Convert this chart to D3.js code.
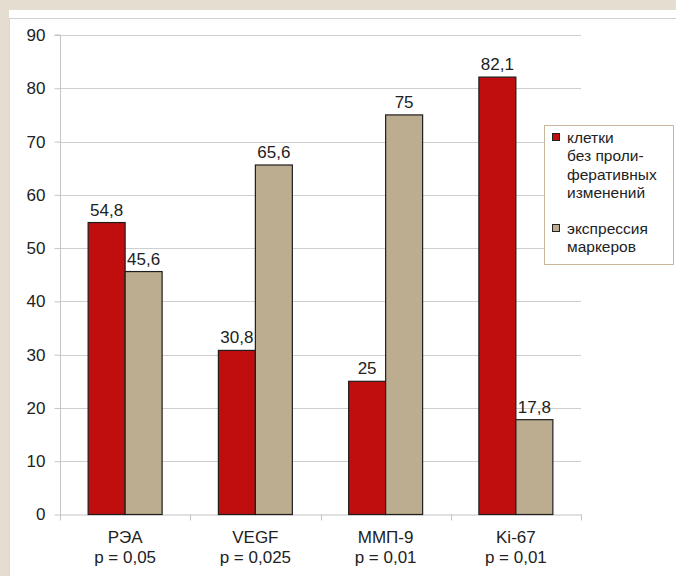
<!DOCTYPE html>
<html>
<head>
<meta charset="utf-8">
<script src="https://cdn.jsdelivr.net/npm/d3@7"></script>
<style>
  html, body { margin: 0; padding: 0; background: #e6ddd1; }
  svg { display: block; }
  text { font-family: "Liberation Sans", Arial, sans-serif; fill: #222; }
</style>
</head>
<body>
<script>
// Marker study: share of cells per marker
const categories = ["РЭА", "VEGF", "ММП-9", "Ki-67"];
const pValues = ["p = 0,05", "p = 0,025", "p = 0,01", "p = 0,01"];
const normalCells = [54.8, 30.8, 25, 82.1];
const markerExpression = [45.6, 65.6, 75, 17.8];
const yTicks = [0, 10, 20, 30, 40, 50, 60, 70, 80, 90];
const seriesNames = [["клетки", "без проли-", "феративных", "изменений"], ["экспрессия", "маркеров"]];
const seriesColors = ["#c00d0e", "#bcad90"];

const W = 676, H = 576;
const svg = d3.select("body").append("svg").attr("width", W).attr("height", H);

// white panel with thin frame
svg.append("rect").attr("x", 9).attr("y", 10).attr("width", W - 9).attr("height", H - 10).attr("fill", "#fff");
svg.append("line").attr("x1", 9).attr("x2", W).attr("y1", 18.5).attr("y2", 18.5).attr("stroke", "#d0d0d0");
svg.append("line").attr("x1", 9.5).attr("x2", 9.5).attr("y1", 18.5).attr("y2", H).attr("stroke", "#d8d8d8");

const x0 = 60, x1 = 581, yTop = 35, yBottom = 514.5;
const x = d3.scaleBand().domain(categories).range([x0, x1]).paddingInner(0).paddingOuter(0);
const y = d3.scaleLinear().domain([0, 90]).range([yBottom, yTop]);
const barW = x.bandwidth() * 0.284;

// gridlines
svg.append("g").selectAll("line").data(yTicks.filter(d => d > 0)).join("line")
  .attr("x1", x0).attr("x2", x1)
  .attr("y1", d => Math.round(y(d)) + 0.5).attr("y2", d => Math.round(y(d)) + 0.5)
  .attr("stroke", "#cfcfcf");

// y axis
const yAxis = svg.append("g").attr("transform", `translate(${x0 + 0.5},0)`)
  .call(d3.axisLeft(y).tickValues(yTicks).tickSize(6).tickPadding(9).tickFormat(d3.format("d")));
yAxis.select(".domain").attr("stroke", "#c4c4c4").attr("d", `M-6,${yTop}H0V${yBottom}`);
yAxis.selectAll(".tick line").attr("stroke", "#c4c4c4");
yAxis.selectAll(".tick text").attr("font-size", 17).attr("fill", "#222")
  .attr("font-family", '"Liberation Sans", Arial, sans-serif');

// x axis line and boundary ticks
svg.append("line").attr("x1", x0).attr("x2", x1).attr("y1", yBottom + 0.5).attr("y2", yBottom + 0.5).attr("stroke", "#c4c4c4");
const bounds = categories.map(c => x(c)).concat([x1]);
svg.append("g").selectAll("line").data(bounds).join("line")
  .attr("x1", d => Math.round(d) + 0.5).attr("x2", d => Math.round(d) + 0.5)
  .attr("y1", yBottom).attr("y2", yBottom + 6).attr("stroke", "#c4c4c4");

// category labels
const lbl = svg.append("g").selectAll("text").data(categories).join("text")
  .attr("x", d => x(d) + x.bandwidth() / 2).attr("text-anchor", "middle").attr("font-size", 17);
lbl.append("tspan").attr("x", d => x(d) + x.bandwidth() / 2).attr("y", 543).text(d => d);
lbl.append("tspan").attr("x", d => x(d) + x.bandwidth() / 2).attr("y", 563).text((d, i) => pValues[i]);

// bars
const series = [normalCells, markerExpression];
series.forEach((vals, s) => {
  const g = svg.append("g");
  g.selectAll("rect").data(vals).join("rect")
    .attr("x", (d, i) => x(categories[i]) + x.bandwidth() / 2 + (s - 1) * barW)
    .attr("y", d => y(d))
    .attr("width", barW)
    .attr("height", d => yBottom - y(d))
    .attr("fill", seriesColors[s])
    .attr("stroke", "#1e1e1e").attr("stroke-width", 1.2);
  g.selectAll("text").data(vals).join("text")
    .attr("x", (d, i) => x(categories[i]) + x.bandwidth() / 2 + (s - 0.5) * barW)
    .attr("y", d => y(d) - 7)
    .attr("text-anchor", "middle").attr("font-size", 17)
    .text(d => String(d).replace(".", ","));
});

// legend
const lg = svg.append("g");
lg.append("rect").attr("x", 544.5).attr("y", 125.5).attr("width", 129).attr("height", 139)
  .attr("fill", "#fff").attr("stroke", "#c8b79a");
const legendRows = [{ y: 143, s: 0 }, { y: 234, s: 1 }];
legendRows.forEach(r => {
  lg.append("rect").attr("x", 552.5).attr("y", r.y - 9.5).attr("width", 7).attr("height", 7)
    .attr("fill", seriesColors[r.s]).attr("stroke", "#222").attr("stroke-width", 1);
  seriesNames[r.s].forEach((t, k) => {
    lg.append("text").attr("x", 567).attr("y", r.y + k * 18.3).attr("font-size", 15.5).text(t);
  });
});
</script>
</body>
</html>
